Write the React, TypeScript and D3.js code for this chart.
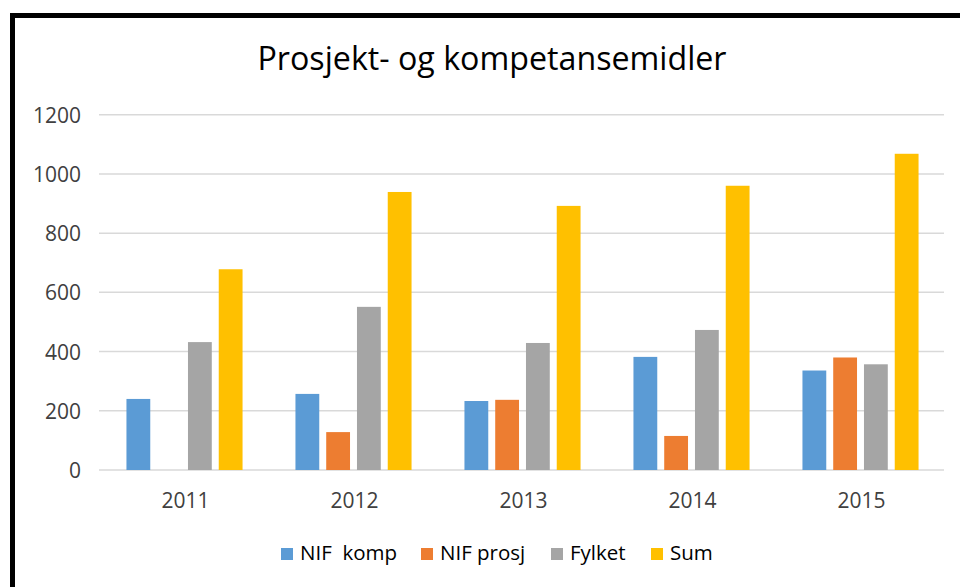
import React, { useEffect, useRef } from 'react';
import * as d3 from 'd3';

const years = ['2011', '2012', '2013', '2014', '2015'];
const seriesNames = ['NIF  komp', 'NIF prosj', 'Fylket', 'Sum'];
const seriesColors = ['#5b9bd5', '#ed7d31', '#a5a5a5', '#ffc000'];
const nifKomp = [240, 257, 233, 382, 336];
const nifProsj = [0, 128, 237, 115, 380];
const fylket = [432, 551, 429, 473, 357];
const sum = [678, 939, 892, 960, 1068];
const yTicks = [0, 200, 400, 600, 800, 1000, 1200];

const font = "'Open Sans', 'Noto Sans', sans-serif";

const App = () => {
  const svgRef = useRef<SVGSVGElement>(null);

  useEffect(() => {
    const svg = d3.select(svgRef.current);
    svg.selectAll('*').remove();

    const W = 960;
    const H = 587;
    const left = 99;
    const right = 944;
    const top = 114.7;
    const bottom = 470;

    svg.append('rect').attr('width', W).attr('height', H).attr('fill', '#fff');

    // frame (screenshot border)
    svg.append('rect').attr('x', 10).attr('y', 13).attr('width', W - 10).attr('height', 5).attr('fill', '#000');
    svg.append('rect').attr('x', 10).attr('y', 13).attr('width', 5).attr('height', H - 13).attr('fill', '#000');

    const x0 = d3.scaleBand().domain(years).range([left, right]).paddingInner(0).paddingOuter(0);
    const x1 = d3.scaleBand().domain(seriesNames).range([0, x0.bandwidth()]).paddingInner(0.226).paddingOuter(0.86);
    const y = d3.scaleLinear().domain([0, 1200]).range([bottom, top]);

    // grid
    svg.append('g')
      .selectAll('line')
      .data(yTicks)
      .join('line')
      .attr('x1', left)
      .attr('x2', right)
      .attr('y1', d => y(d))
      .attr('y2', d => y(d))
      .attr('stroke', '#d9d9d9')
      .attr('stroke-width', 1.5);

    // y labels
    svg.append('g')
      .selectAll('text')
      .data(yTicks)
      .join('text')
      .attr('x', 81)
      .attr('y', d => y(d) + 8)
      .attr('text-anchor', 'end')
      .style('font-family', font)
      .style('font-size', '21px')
      .attr('fill', '#404040')
      .text(d => d);

    // x labels
    svg.append('g')
      .selectAll('text')
      .data(years)
      .join('text')
      .attr('x', d => (x0(d) as number) + x0.bandwidth() / 2 + 2)
      .attr('y', 508)
      .attr('text-anchor', 'middle')
      .style('font-family', font)
      .style('font-size', '21px')
      .attr('fill', '#404040')
      .text(d => d);

    const allSeries = [nifKomp, nifProsj, fylket, sum];

    allSeries.forEach((vals, si) => {
      svg.append('g')
        .selectAll('rect')
        .data(vals)
        .join('rect')
        .attr('x', (d, i) => (x0(years[i]) as number) + (x1(seriesNames[si]) as number) + 1)
        .attr('y', d => y(d))
        .attr('width', x1.bandwidth())
        .attr('height', d => bottom - y(d))
        .attr('fill', seriesColors[si]);
    });

    // title
    svg.append('text')
      .attr('x', 492)
      .attr('y', 70)
      .attr('text-anchor', 'middle')
      .style('font-family', font)
      .style('font-size', '32.2px')
      .attr('fill', '#000')
      .text('Prosjekt- og kompetansemidler');

    // legend
    const legendX = [281, 421, 551, 651];
    const legend = svg.append('g');
    seriesNames.forEach((name, i) => {
      legend.append('rect')
        .attr('x', legendX[i])
        .attr('y', 548)
        .attr('width', 12)
        .attr('height', 12)
        .attr('fill', seriesColors[i]);
      legend.append('text')
        .attr('x', legendX[i] + 19)
        .attr('y', 560)
        .style('font-family', font)
        .style('font-size', '20.5px')
        .style('white-space', 'pre')
        .attr('fill', '#000')
        .attr('xml:space', 'preserve')
        .text(name);
    });
  }, []);

  return (
    <svg
      ref={svgRef}
      width={960}
      height={587}
      style={{ position: 'absolute', left: 0, top: 0, display: 'block' }}
    />
  );
};

export default App;
